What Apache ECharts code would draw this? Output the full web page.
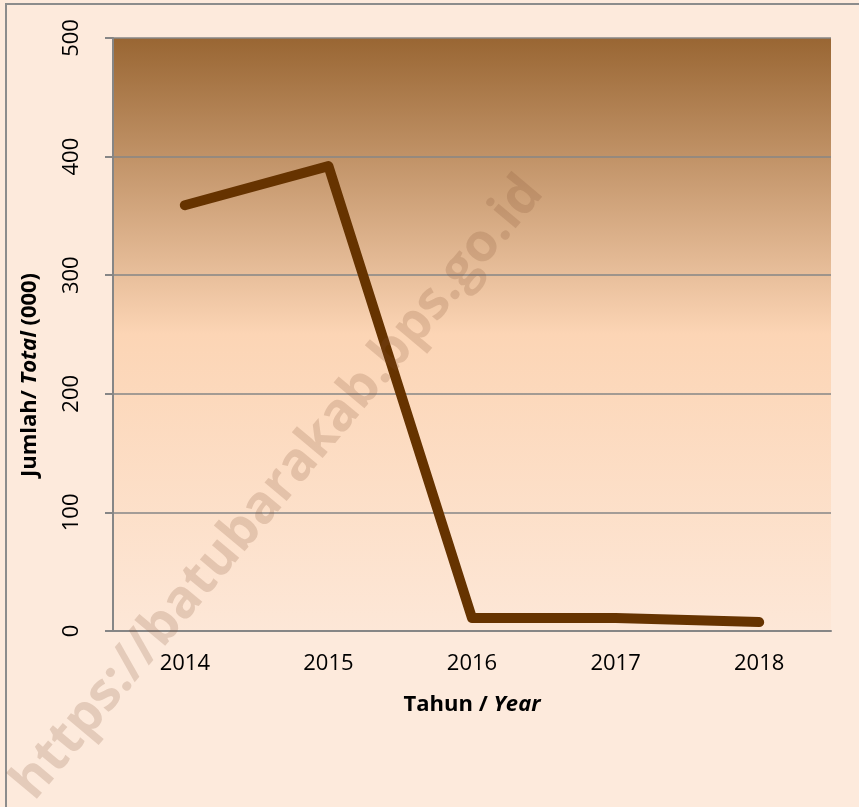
<!DOCTYPE html>
<html>
<head>
<meta charset="utf-8">
<script src="https://cdn.jsdelivr.net/npm/echarts@6/dist/echarts.min.js"></script>
<style>
  html, body { margin: 0; padding: 0; background: #fdeadc; }
  #chart { width: 859px; height: 807px; }
</style>
</head>
<body>
<div id="chart"></div>
<script>
const years = ['2014', '2015', '2016', '2017', '2018'];
const totals = [359, 392, 11, 11, 7.5];
const yTicks = [0, 100, 200, 300, 400, 500];

const chart = echarts.init(document.getElementById('chart'));

const boldRich = {
  b: { fontFamily: 'Open Sans', fontWeight: 'bold', fontSize: 22, fill: '#000', color: '#000' },
  bi: { fontFamily: 'Open Sans', fontWeight: 'bold', fontStyle: 'italic', fontSize: 22, fill: '#000', color: '#000' }
};

const option = {
  backgroundColor: '#fdeadc',
  animation: false,
  grid: {
    left: 113,
    right: 28,
    top: 38,
    bottom: 176,
    show: true,
    borderWidth: 0,
    // plot area fill: dark brown on top fading to light peach
    backgroundColor: new echarts.graphic.LinearGradient(0, 0, 0, 1, [
      { offset: 0, color: '#996633' },
      { offset: 0.5, color: '#fcd5b5' },
      { offset: 1, color: '#fde7d7' }
    ])
  },
  xAxis: {
    type: 'category',
    data: years,
    boundaryGap: true,
    axisLine: { lineStyle: { color: '#868686', width: 2 } },
    axisTick: { show: false },
    axisLabel: { color: '#000', fontFamily: 'Open Sans', fontSize: 22, margin: 22 },
    name: '{b|Tahun / }{bi|Year}',
    nameLocation: 'middle',
    nameGap: 63,
    nameTextStyle: { rich: boldRich }
  },
  yAxis: {
    type: 'value',
    min: yTicks[0],
    max: yTicks[yTicks.length - 1],
    interval: 100,
    axisLine: { show: true, lineStyle: { color: '#868686', width: 2 } },
    axisTick: { show: true, length: 8, lineStyle: { color: '#868686', width: 2 } },
    splitLine: { lineStyle: { color: '#868686', width: 1.5 } },
    axisLabel: {
      color: '#000', fontFamily: 'Open Sans', fontSize: 22, rotate: 90, margin: 30
    }
  },
  series: [
    {
      type: 'line',
      data: totals,
      showSymbol: false,
      lineStyle: { color: '#663300', width: 10, cap: 'round', join: 'round' }
    }
  ],
  graphic: [
    // outer frame (top & left edges visible)
    {
      type: 'rect',
      shape: { x: 6, y: 4, width: 900, height: 900 },
      style: { fill: 'none', stroke: '#8c8c8c', lineWidth: 2 },
      silent: true
    },
    // y axis title, sits a bit below the plot middle like the original
    {
      type: 'text',
      x: 30,
      y: 375,
      rotation: Math.PI / 2,
      style: {
        text: '{b|Jumlah/ }{bi|Total}{b| (000)}',
        rich: boldRich,
        align: 'center',
        verticalAlign: 'middle'
      },
      silent: true
    },
    // watermark
    {
      type: 'text',
      x: 278,
      y: 488,
      rotation: 50 * Math.PI / 180,
      z: 100,
      style: {
        text: 'https://batubarakab.bps.go.id',
        font: 'bold 53px "Open Sans"',
        fill: 'rgba(130, 80, 50, 0.2)',
        align: 'center',
        verticalAlign: 'middle'
      },
      silent: true
    }
  ]
};

chart.setOption(option);
</script>
</body>
</html>
